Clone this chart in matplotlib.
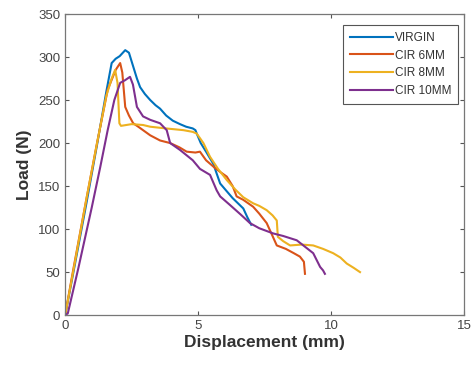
import matplotlib
matplotlib.use("Agg")
import matplotlib.pyplot as plt

plt.rcParams['font.family'] = ['Liberation Sans', 'DejaVu Sans']

# displacement (mm) / load (N)
virgin_x = [0, 0.3, 0.8, 1.2, 1.55, 1.75, 1.9, 2.05, 2.26, 2.4, 2.56, 2.7, 2.82, 3.0, 3.2,
            3.4, 3.57, 3.8, 4.05, 4.32, 4.55, 4.8, 4.9, 4.95, 5.1, 5.3, 5.57, 5.83, 6.05,
            6.3, 6.5, 6.7, 6.85, 7.0]
virgin_y = [0, 48, 130, 198, 260, 293, 298, 301, 308, 305, 289, 275, 265, 257, 250,
            244, 240, 232, 226, 222, 219, 217, 215, 211, 200, 190, 176, 153, 145,
            136, 130, 124, 114, 105]

cir6_x = [0, 0.3, 0.8, 1.2, 1.6, 1.9, 2.07, 2.15, 2.26, 2.4, 2.56, 2.75, 2.93, 3.2, 3.57,
          3.95, 4.3, 4.57, 4.9, 5.07, 5.3, 5.6, 5.85, 6.08, 6.3, 6.45, 6.7, 7.07, 7.3,
          7.58, 7.8, 7.96, 8.3, 8.6, 8.83, 8.98, 9.02]
cir6_y = [0, 52, 135, 200, 262, 285, 293, 282, 242, 232, 223, 219, 215, 209, 203,
          200, 195, 190, 189, 190, 180, 172, 166, 161, 150, 138, 134, 126, 118,
          107, 92, 81, 77, 72, 68, 62, 48]

cir8_x = [0, 0.3, 0.8, 1.2, 1.55, 1.75, 1.88, 1.97, 2.04, 2.1, 2.5, 2.93, 3.2, 3.8, 4.45,
          4.8, 4.95, 5.2, 5.45, 5.75, 6.08, 6.4, 6.7, 7.07, 7.3, 7.58, 7.8, 7.96, 8.0,
          8.2, 8.46, 8.9, 9.33, 9.7, 10.08, 10.35, 10.59, 10.85, 11.09]
cir8_y = [0, 50, 135, 200, 255, 275, 285, 270, 223, 220, 222, 221, 219, 217, 215,
          213, 211, 200, 184, 170, 157, 146, 137, 130, 127, 122, 116, 110, 91,
          86, 81, 82, 81, 77, 72, 67, 60, 55, 50]

cir10_x = [0, 0.1, 0.5, 1.0, 1.32, 1.6, 1.85, 2.07, 2.25, 2.44, 2.55, 2.7, 2.93, 3.2, 3.57,
           3.82, 3.95, 4.32, 4.8, 5.07, 5.45, 5.7, 5.83, 6.2, 6.6, 6.95, 7.3, 7.82, 8.2,
           8.71, 9.0, 9.33, 9.59, 9.7, 9.77]
cir10_y = [0, 2, 55, 125, 172, 215, 250, 270, 273, 277, 268, 242, 231, 227, 223,
           215, 200, 192, 180, 170, 163, 145, 138, 128, 117, 107, 101, 95, 92,
           87, 80, 72, 56, 52, 48]

labels = ["VIRGIN", "CIR 6MM", "CIR 8MM", "CIR 10MM"]
colors = ["#0072BD", "#D95319", "#EDB120", "#7E2F8E"]

fig = plt.figure(figsize=(4.72, 3.69), dpi=100)
ax = fig.add_axes([0.138, 0.146, 0.845, 0.816])

series = [(virgin_x, virgin_y), (cir6_x, cir6_y), (cir8_x, cir8_y), (cir10_x, cir10_y)]
for (xs, ys), lab, c in zip(series, labels, colors):
    ax.plot(xs, ys, color=c, lw=1.5, label=lab)

ax.set_xlim(0, 15)
ax.set_ylim(0, 350)
ax.set_xticks([0, 5, 10, 15])
ax.set_yticks(range(0, 351, 50))
ax.tick_params(direction="in", top=True, right=True, length=3, width=0.8,
               colors="#555555", labelcolor="#444444", labelsize=9.5)
for s in ax.spines.values():
    s.set_color("#777777")
    s.set_linewidth(0.9)

ax.set_xlabel("Displacement (mm)", fontsize=12.5, fontweight="bold", color="#333333", labelpad=2)
ax.set_ylabel("Load (N)", fontsize=12.5, fontweight="bold", color="#333333", labelpad=4)

leg = ax.legend(loc="upper right", fontsize=8.5, handlelength=3.7, handletextpad=0.15,
                labelspacing=0.5, borderpad=0.55, fancybox=False, framealpha=1,
                borderaxespad=0, bbox_to_anchor=(0.985, 0.963))
leg.get_frame().set_edgecolor("#555555")
leg.get_frame().set_linewidth(0.8)
for t in leg.get_texts():
    t.set_color("#333333")

fig.savefig("out.png", dpi=100)
